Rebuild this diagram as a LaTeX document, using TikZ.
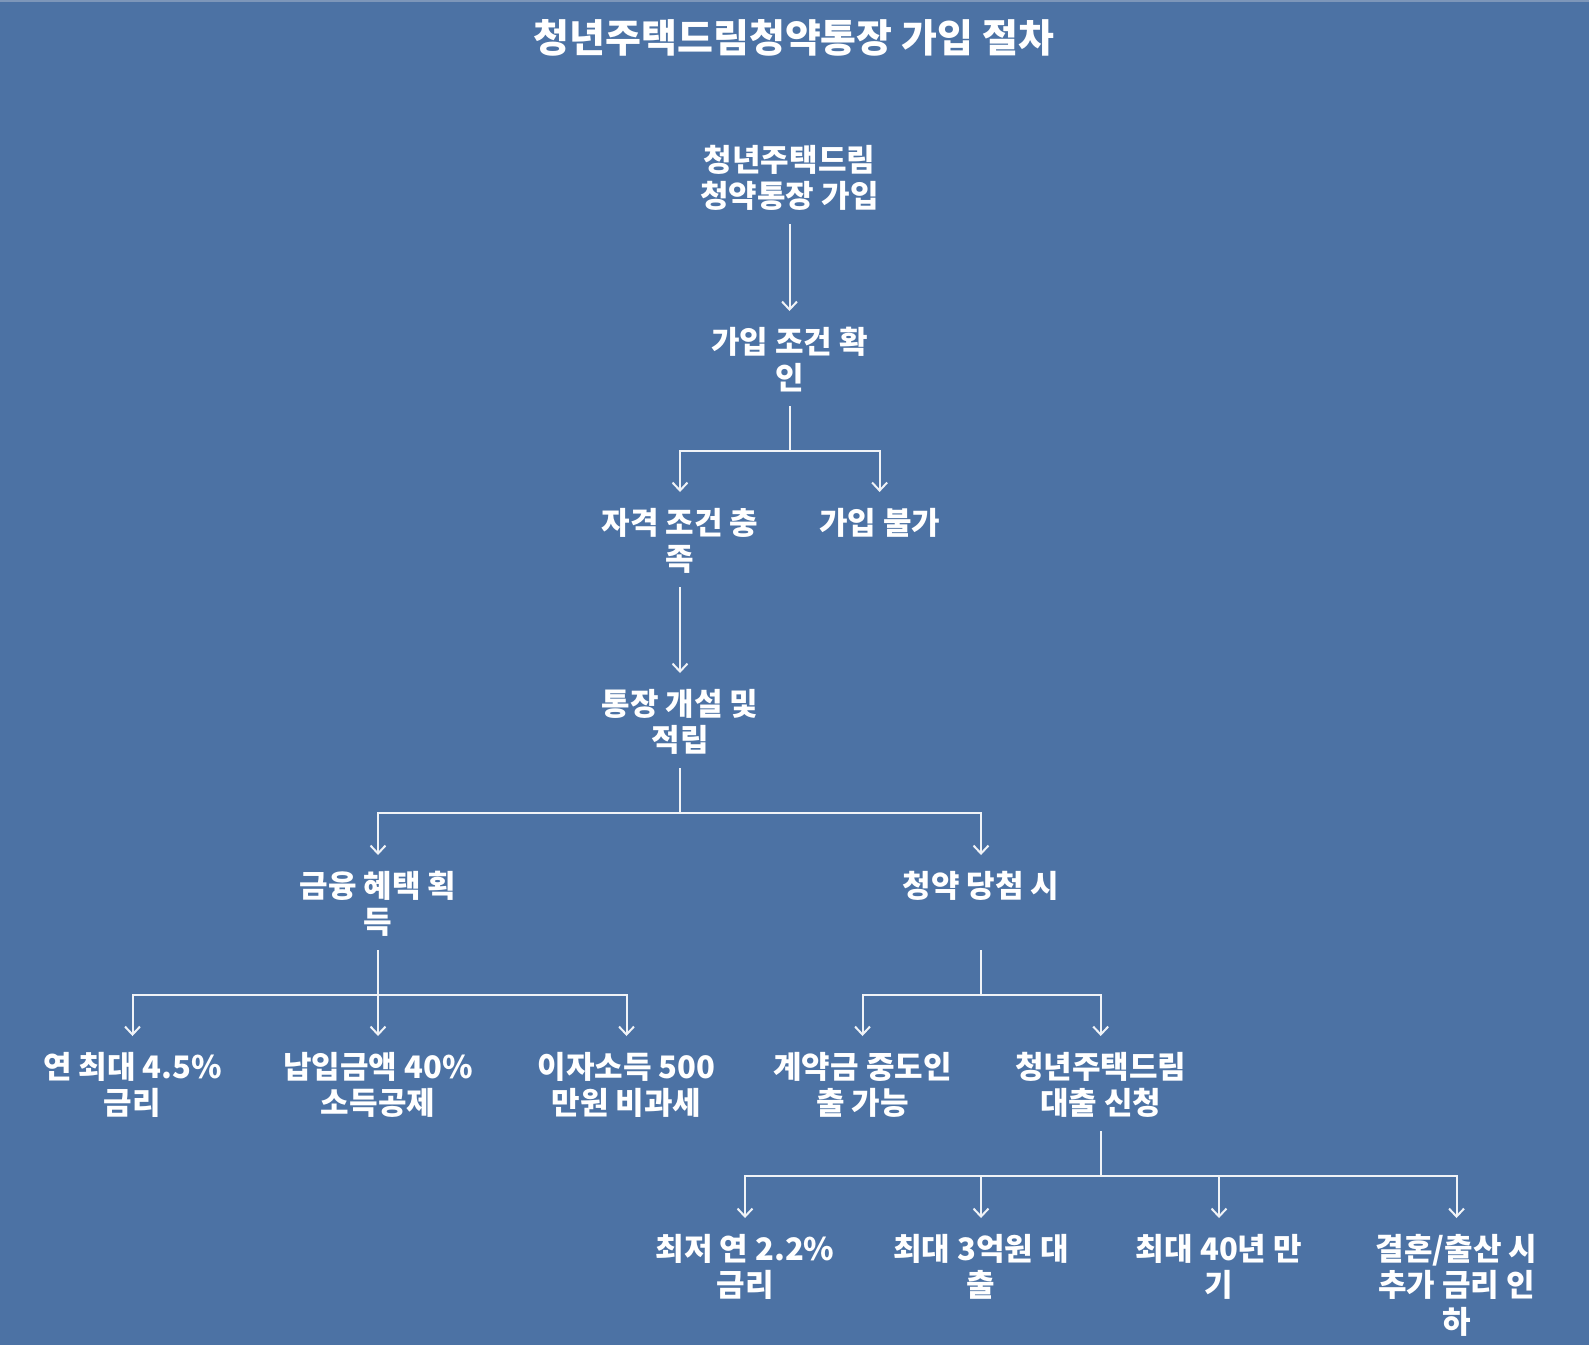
\documentclass[tikz,border=0pt]{standalone}
\usepackage{fontspec}
\setmainfont{Noto Sans CJK KR}
\usetikzlibrary{arrows.meta}
\definecolor{bg}{RGB}{76,114,164}
\definecolor{topline}{RGB}{125,150,185}
\definecolor{conncol}{RGB}{240,243,247}
\newcommand\stepbox[1]{\parbox[t][95pt][t]{260pt}{\centering\fontsize{31pt}{36.5pt}\selectfont\bfseries\rule{0pt}{42pt}#1}}
\begin{document}
\begin{tikzpicture}[x=1pt,y=-1pt,
  box/.style={anchor=north, inner sep=0pt, text=white},
  conn/.style={draw=conncol, line width=2pt, -{Straight Barb[length=8pt,width=15pt]}}]
\fill[bg] (0,0) rectangle (1589,1345);
\useasboundingbox (0,0) rectangle (1589,1345);
\fill[topline] (0,0) rectangle (1589,2);
\node[text=white, font=\fontsize{39pt}{42pt}\selectfont\bfseries, inner sep=0pt] (title) at (794,37.5) {청년주택드림청약통장 가입 절차};
% row A
\node[box] (n1) at (789.5,129) {\stepbox{청년주택드림\\청약통장 가입}};
% row B
\node[box] (n2) at (789.5,311) {\stepbox{가입 조건 확\\인}};
% row C
\node[box] (n3) at (680,492) {\stepbox{자격 조건 충\\족}};
\node[box] (n4) at (879.6,492) {\stepbox{가입 불가}};
% row D
\node[box] (n5) at (680,673) {\stepbox{통장 개설 및\\적립}};
% row E
\node[box] (n6) at (378,855) {\stepbox{금융 혜택 획\\득}};
\node[box] (n7) at (981,855) {\stepbox{청약 당첨 시}};
% row F
\node[box] (f1) at (132.5,1036) {\stepbox{연 최대 4.5\%\\금리}};
\node[box] (f2) at (378,1036) {\stepbox{납입금액 40\%\\소득공제}};
\node[box] (f3) at (626.5,1036) {\stepbox{이자소득 500\\만원 비과세}};
\node[box] (f4) at (862.5,1036) {\stepbox{계약금 중도인\\출 가능}};
\node[box] (f5) at (1100.7,1036) {\stepbox{청년주택드림\\대출 신청}};
% row G
\node[box] (g1) at (745,1218) {\stepbox{최저 연 2.2\%\\금리}};
\node[box] (g2) at (981,1218) {\stepbox{최대 3억원 대\\출}};
\node[box] (g3) at (1219,1218) {\stepbox{최대 40년 만\\기}};
\node[box] (g4) at (1456.5,1218) {\stepbox{결혼/출산 시\\추가 금리 인\\하}};
% connectors
\draw[conn] (n1.south) -- (n2.north);
\draw[conn] (n2.south) -- ++(0,45) -| (n3.north);
\draw[conn] (n2.south) -- ++(0,45) -| (n4.north);
\draw[conn] (n3.south) -- (n5.north);
\draw[conn] (n5.south) -- ++(0,45) -| (n6.north);
\draw[conn] (n5.south) -- ++(0,45) -| (n7.north);
\draw[conn] (n6.south) -- ++(0,45) -| (f1.north);
\draw[conn] (n6.south) -- (f2.north);
\draw[conn] (n6.south) -- ++(0,45) -| (f3.north);
\draw[conn] (n7.south) -- ++(0,45) -| (f4.north);
\draw[conn] (n7.south) -- ++(0,45) -| (f5.north);
\draw[conn] (f5.south) -- ++(0,45) -| (g1.north);
\draw[conn] (f5.south) -- ++(0,45) -| (g2.north);
\draw[conn] (f5.south) -- ++(0,45) -| (g3.north);
\draw[conn] (f5.south) -- ++(0,45) -| (g4.north);
\end{tikzpicture}
\end{document}
